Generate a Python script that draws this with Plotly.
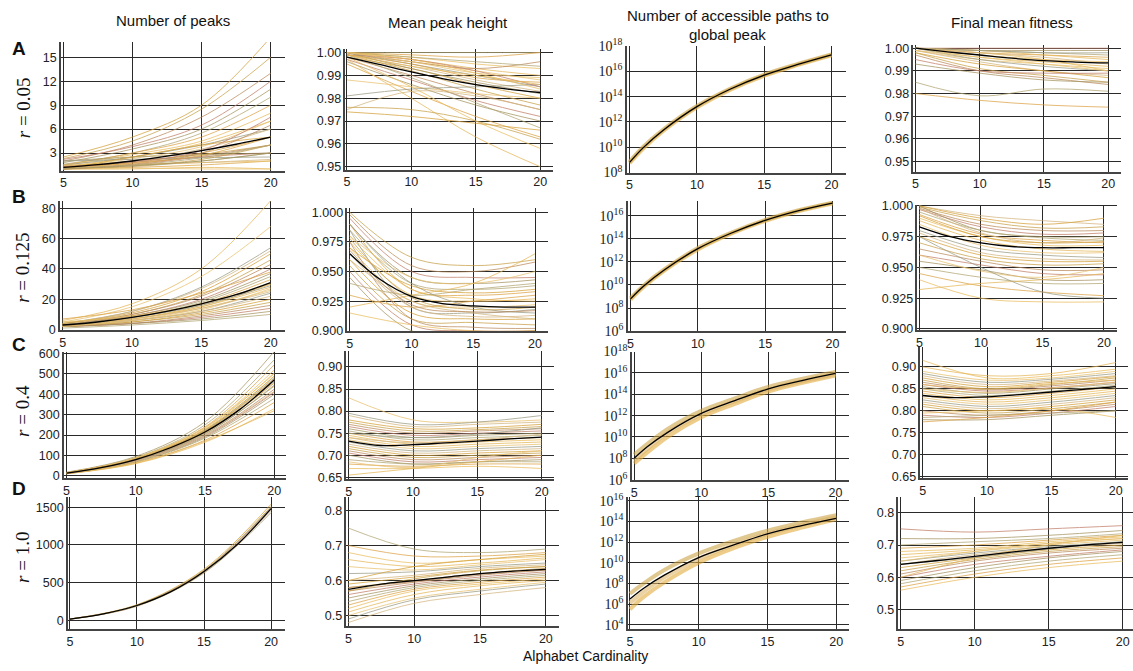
import plotly.graph_objects as go

W, H = 1133, 671

# x positions (alphabet cardinality)
X4 = [5, 10, 15, 20]
X7 = [5, 7.5, 10, 12.5, 15, 17.5, 20]
X8 = [5, 6, 7.5, 10, 12.5, 15, 17.5, 20]

col_titles = ["Number of peaks", "Mean peak height",
              "Number of accessible paths to", "Final mean fitness"]
col3_title_line2 = "global peak"
row_letters = ["A", "B", "C", "D"]
row_r = ["0.05", "0.125", "0.4", "1.0"]

# ---------------- Row A (r = 0.05) ----------------
A1_lines = [[2.5, 5.0, 9.0, 17.5], [2.3, 4.5, 8.5, 15], [2.0, 4.0, 7.5, 13], [2.2, 3.8, 6.5, 12],
            [1.8, 3.5, 6.0, 11], [1.6, 3.0, 5.5, 10], [1.5, 3.0, 5.0, 9], [1.4, 2.8, 4.5, 8],
            [1.3, 2.5, 4.2, 7], [1.2, 2.3, 3.8, 7], [1.5, 2.5, 4.0, 6], [1.0, 2.0, 3.5, 6],
            [1.1, 1.8, 3.0, 5], [1.3, 2.0, 2.8, 4], [1.2, 1.8, 2.6, 4], [1.0, 1.5, 2.5, 3],
            [2.0, 2.5, 2.8, 3], [1.0, 1.3, 2.0, 3], [1.0, 1.2, 1.5, 2], [1.5, 1.6, 1.8, 2],
            [1.0, 1.0, 1.2, 1], [1.0, 1.1, 1.0, 1], [2.0, 2.2, 2.4, 2.5], [1.2, 1.5, 1.8, 2.2],
            [1.0, 2.5, 4.0, 5.0], [1.1, 1.4, 2.2, 4], [1.0, 1.6, 3.0, 6.5], [1.3, 1.9, 3.3, 7.5],
            [1.0, 1.4, 2.0, 3], [1.1, 1.5, 2.4, 4], [1.2, 1.7, 2.7, 5]]
A1_mean = [1.2, 1.55, 2.0, 2.6, 3.3, 4.1, 5.0]

A2_lines = [[1.0, 1.0, 1.0, 1.0], [1.0, 0.999, 0.998, 1.0], [1.0, 0.998, 0.995, 0.993],
            [1.0, 0.997, 0.993, 0.99], [0.999, 0.996, 0.992, 0.988], [1.0, 0.995, 0.99, 0.985],
            [0.999, 0.994, 0.988, 0.983], [0.998, 0.993, 0.986, 0.98], [0.999, 0.992, 0.984, 0.977],
            [0.998, 0.99, 0.982, 0.975], [0.997, 0.988, 0.979, 0.972], [0.996, 0.986, 0.977, 0.97],
            [0.999, 0.989, 0.978, 0.967], [0.995, 0.983, 0.972, 0.963], [0.998, 0.985, 0.97, 0.958],
            [0.997, 0.98, 0.963, 0.95], [0.988, 0.985, 0.982, 0.98], [0.981, 0.984, 0.985, 0.986],
            [0.975, 0.983, 0.981, 0.975], [0.974, 0.972, 0.969, 0.966], [0.976, 0.975, 0.97, 0.962],
            [1.0, 0.996, 0.993, 0.996], [0.999, 0.997, 0.992, 0.985], [1.0, 0.993, 0.987, 0.982],
            [1.0, 0.998, 0.996, 0.994], [0.999, 0.995, 0.989, 0.987], [1.0, 0.997, 0.991, 0.984],
            [0.999, 0.994, 0.99, 0.986], [1.0, 0.996, 0.991, 0.989]]
A2_mean = [0.998, 0.9948, 0.9915, 0.9885, 0.986, 0.984, 0.9825]

A3_lines = [[5.5e8, 7.5e9, 1.9e11, 1.4e13, 3.6e14, 4.5e15, 3.2e16, 1.85e17],
            [7.2e8, 1.05e10, 2.5e11, 1.8e13, 4.4e14, 5.5e15, 3.8e16, 2.15e17]]
A3_mean = [6.3e8, 8.9e9, 2.2e11, 1.6e13, 4e14, 5e15, 3.5e16, 2e17]

A4_lines = [[1.0, 1.0, 1.0, 1.0], [1.0, 0.999, 0.999, 0.999], [1.0, 0.999, 0.998, 0.997],
            [1.0, 0.998, 0.997, 0.996], [1.0, 0.997, 0.995, 0.994], [1.0, 0.996, 0.994, 0.992],
            [0.999, 0.995, 0.993, 0.991], [1.0, 0.995, 0.992, 0.99], [0.999, 0.994, 0.99, 0.988],
            [0.998, 0.993, 0.99, 0.987], [0.998, 0.991, 0.988, 0.985], [0.997, 0.99, 0.987, 0.984],
            [0.995, 0.99, 0.989, 0.989], [0.993, 0.989, 0.986, 0.985], [0.985, 0.979, 0.982, 0.981],
            [0.98, 0.977, 0.975, 0.974], [1.0, 0.998, 0.995, 0.99], [1.0, 0.999, 0.997, 0.995],
            [0.999, 0.996, 0.993, 0.99], [1.0, 0.999, 0.998, 0.998], [1.0, 0.998, 0.996, 0.993]]
A4_mean = [1.0, 0.9984, 0.997, 0.9956, 0.9945, 0.9939, 0.9935]

# ---------------- Row B (r = 0.125) ----------------
B1_lines = [[6, 17, 40, 85], [5, 15, 35, 68], [4, 12, 28, 54], [4, 12, 27, 52], [4, 11, 25, 50],
            [4, 10, 23, 46], [3, 10, 22, 43], [3, 9, 20, 40], [3, 9, 19, 37], [3, 8, 18, 35],
            [3, 8, 17, 33], [2, 7, 15, 30], [3, 7, 15, 28], [2, 6, 14, 26], [2, 6, 12, 24],
            [2, 6, 12, 22], [2, 5, 11, 20], [2, 5, 10, 18], [2, 4, 9, 16], [2, 4, 8, 14],
            [2, 4, 7, 12], [1, 3, 6, 10], [7, 13, 24, 38], [5, 9, 17, 30], [3, 7, 16, 31],
            [2, 6, 13, 27], [3, 8, 16, 29], [3, 7, 14, 25]]
B1_mean = [3, 5, 8, 12, 17, 23, 31]

B2_lines = [[1.0, 0.962, 0.955, 0.96], [0.998, 0.955, 0.95, 0.958], [0.995, 0.95, 0.945, 0.945],
            [0.99, 0.945, 0.94, 0.943], [0.985, 0.94, 0.935, 0.938], [0.99, 0.935, 0.93, 0.933],
            [0.98, 0.935, 0.927, 0.925], [0.975, 0.93, 0.925, 0.927], [0.97, 0.925, 0.92, 0.922],
            [0.985, 0.92, 0.915, 0.918], [0.965, 0.92, 0.912, 0.913], [0.96, 0.915, 0.91, 0.91],
            [0.955, 0.91, 0.907, 0.905], [0.975, 0.91, 0.903, 0.902], [0.95, 0.905, 0.9, 0.9],
            [0.945, 0.9, 0.898, 0.9], [0.94, 0.93, 0.935, 0.94], [0.93, 0.92, 0.925, 0.93],
            [0.915, 0.905, 0.9, 0.9], [0.92, 0.93, 0.94, 0.965], [0.98, 0.945, 0.94, 0.95],
            [0.99, 0.94, 0.92, 0.915], [0.96, 0.925, 0.915, 0.91], [0.97, 0.938, 0.932, 0.935],
            [0.978, 0.928, 0.918, 0.92], [0.968, 0.922, 0.916, 0.917]]
B2_mean = [0.965, 0.943, 0.929, 0.923, 0.921, 0.920, 0.920]

B3_lines = [[5.5e8, 7.4e9, 1.8e11, 1.2e13, 2.9e14, 3.6e15, 2.6e16, 1.15e17],
            [7.2e8, 9.6e9, 2.2e11, 1.6e13, 3.5e14, 4.4e15, 3e16, 1.38e17]]
B3_mean = [6.3e8, 8.5e9, 2e11, 1.4e13, 3.2e14, 4e15, 2.8e16, 1.26e17]

B4_lines = [[1.0, 0.992, 0.988, 0.985], [1.0, 0.99, 0.985, 0.99], [0.999, 0.988, 0.982, 0.983],
            [0.998, 0.985, 0.98, 0.98], [0.997, 0.983, 0.977, 0.978], [1.0, 0.98, 0.975, 0.975],
            [0.995, 0.98, 0.974, 0.972], [0.993, 0.977, 0.972, 0.97], [0.99, 0.975, 0.968, 0.968],
            [0.988, 0.972, 0.965, 0.963], [0.985, 0.968, 0.962, 0.962], [0.98, 0.965, 0.96, 0.958],
            [0.978, 0.962, 0.957, 0.956], [0.975, 0.96, 0.955, 0.955], [0.97, 0.957, 0.952, 0.953],
            [0.965, 0.955, 0.948, 0.948], [0.96, 0.952, 0.945, 0.944], [0.955, 0.948, 0.94, 0.94],
            [0.95, 0.942, 0.937, 0.937], [0.945, 0.935, 0.93, 0.927], [0.94, 0.925, 0.922, 0.922],
            [0.932, 0.937, 0.94, 0.945], [0.96, 0.947, 0.942, 0.95], [0.975, 0.95, 0.93, 0.925],
            [0.998, 0.978, 0.97, 0.974], [0.992, 0.975, 0.97, 0.971]]
B4_mean = [0.983, 0.975, 0.970, 0.967, 0.966, 0.966, 0.966]

# ---------------- Row C (r = 0.4) ----------------
C1_lines = [[18, 95, 265, 610], [16, 90, 250, 570], [15, 88, 240, 545], [16, 86, 235, 520],
            [14, 85, 230, 505], [15, 84, 225, 490], [13, 82, 222, 480], [14, 80, 218, 470],
            [12, 79, 212, 455], [13, 77, 208, 440], [12, 75, 200, 425], [11, 73, 195, 410],
            [12, 70, 190, 400], [11, 68, 185, 380], [10, 65, 175, 360], [10, 60, 165, 330],
            [11, 62, 170, 320], [14, 87, 238, 500], [13, 78, 205, 445], [12, 72, 198, 415],
            [13, 81, 220, 475], [14, 83, 226, 488], [13, 80, 214, 462]]
C1_mean = [13, 40, 80, 138, 215, 325, 470]

C2_lines = [[0.83, 0.78, 0.775, 0.78], [0.795, 0.77, 0.775, 0.79], [0.79, 0.765, 0.77, 0.775],
            [0.78, 0.76, 0.762, 0.77], [0.775, 0.755, 0.758, 0.765], [0.77, 0.75, 0.755, 0.76],
            [0.765, 0.745, 0.75, 0.755], [0.76, 0.74, 0.745, 0.75], [0.755, 0.735, 0.74, 0.745],
            [0.75, 0.73, 0.735, 0.74], [0.745, 0.725, 0.73, 0.735], [0.74, 0.72, 0.725, 0.73],
            [0.735, 0.715, 0.72, 0.725], [0.73, 0.71, 0.715, 0.72], [0.725, 0.705, 0.71, 0.715],
            [0.72, 0.7, 0.705, 0.71], [0.715, 0.695, 0.7, 0.705], [0.71, 0.69, 0.695, 0.7],
            [0.705, 0.685, 0.69, 0.695], [0.7, 0.68, 0.685, 0.69], [0.69, 0.68, 0.685, 0.685],
            [0.68, 0.675, 0.68, 0.68], [0.67, 0.67, 0.675, 0.67], [0.655, 0.67, 0.685, 0.7],
            [0.685, 0.672, 0.695, 0.71], [0.75, 0.74, 0.748, 0.762], [0.74, 0.728, 0.735, 0.748]]
C2_mean = [0.732, 0.722, 0.724, 0.728, 0.732, 0.737, 0.741]

C3_lines = [[3.2e7, 1e10, 7e11, 1.26e13, 1.8e14, 5.6e15],
            [2.2e8, 5.6e10, 2.8e12, 4e13, 5e14, 1.26e16],
            [6e7, 2.5e10, 1.3e12, 2.2e13, 2.8e14, 8e15]]
C3_lines_x = [5, 7.5, 10, 12.5, 15, 20]
C3_mean = [1e8, 1.26e9, 2.7e10, 1.6e12, 2.5e13, 3.2e14, 1.9e15, 8.9e15]

C4_lines = [[0.915, 0.875, 0.88, 0.895], [0.9, 0.88, 0.885, 0.91], [0.89, 0.87, 0.875, 0.89],
            [0.885, 0.865, 0.872, 0.885], [0.88, 0.86, 0.868, 0.88], [0.875, 0.855, 0.865, 0.878],
            [0.87, 0.85, 0.86, 0.875], [0.865, 0.848, 0.857, 0.87], [0.86, 0.845, 0.853, 0.865],
            [0.855, 0.84, 0.85, 0.862], [0.85, 0.835, 0.845, 0.858], [0.845, 0.83, 0.84, 0.855],
            [0.84, 0.825, 0.835, 0.85], [0.835, 0.82, 0.83, 0.845], [0.83, 0.815, 0.825, 0.84],
            [0.825, 0.81, 0.82, 0.835], [0.82, 0.805, 0.815, 0.83], [0.815, 0.8, 0.81, 0.825],
            [0.81, 0.795, 0.805, 0.82], [0.8, 0.79, 0.8, 0.815], [0.79, 0.785, 0.795, 0.81],
            [0.78, 0.78, 0.79, 0.8], [0.785, 0.79, 0.795, 0.8], [0.775, 0.785, 0.8, 0.82],
            [0.795, 0.8, 0.805, 0.785], [0.86, 0.85, 0.862, 0.87], [0.85, 0.842, 0.852, 0.866]]
C4_mean = [0.835, 0.830, 0.832, 0.837, 0.843, 0.849, 0.855]

# ---------------- Row D (r = 1.0) ----------------
D1_lines = [[22, 210, 680, 1540], [20, 205, 665, 1510], [18, 195, 640, 1460],
            [19, 200, 655, 1490], [21, 190, 630, 1430], [20, 202, 660, 1500]]
D1_mean = [20, 90, 200, 380, 650, 1010, 1480]

D2_lines = [[0.75, 0.69, 0.68, 0.69], [0.7, 0.67, 0.67, 0.68], [0.68, 0.65, 0.66, 0.67],
            [0.66, 0.64, 0.65, 0.665], [0.64, 0.63, 0.645, 0.66], [0.62, 0.625, 0.64, 0.65],
            [0.6, 0.615, 0.635, 0.645], [0.59, 0.61, 0.63, 0.64], [0.58, 0.6, 0.62, 0.635],
            [0.57, 0.595, 0.615, 0.63], [0.56, 0.59, 0.61, 0.625], [0.55, 0.585, 0.605, 0.62],
            [0.54, 0.58, 0.6, 0.615], [0.53, 0.575, 0.595, 0.61], [0.52, 0.57, 0.59, 0.605],
            [0.51, 0.56, 0.585, 0.6], [0.5, 0.55, 0.575, 0.595], [0.49, 0.545, 0.57, 0.59],
            [0.48, 0.535, 0.56, 0.58], [0.6, 0.64, 0.66, 0.675], [0.57, 0.605, 0.628, 0.64],
            [0.58, 0.597, 0.618, 0.63]]
D2_mean = [0.575, 0.59, 0.6, 0.61, 0.62, 0.627, 0.632]

D3_lines = [[3.2e5, 5e6, 1.26e8, 1e10, 2.5e11, 3.2e12, 2.5e13, 1.6e14],
            [1e7, 1e8, 2e9, 8e10, 1.26e12, 1.26e13, 8e13, 4e14],
            [1.26e6, 1.6e7, 4e8, 2.5e10, 5e11, 6.3e12, 4.5e13, 2.5e14]]
D3_mean = [3.2e6, 3.5e7, 6.3e8, 3.2e10, 5e11, 6.3e12, 4e13, 2e14]

D4_lines = [[0.75, 0.74, 0.75, 0.76], [0.72, 0.72, 0.73, 0.745], [0.7, 0.71, 0.72, 0.735],
            [0.69, 0.7, 0.715, 0.73], [0.68, 0.69, 0.71, 0.725], [0.67, 0.685, 0.705, 0.72],
            [0.66, 0.68, 0.7, 0.715], [0.65, 0.675, 0.695, 0.71], [0.64, 0.67, 0.69, 0.705],
            [0.63, 0.66, 0.685, 0.7], [0.62, 0.655, 0.68, 0.695], [0.61, 0.65, 0.675, 0.69],
            [0.6, 0.64, 0.665, 0.685], [0.59, 0.63, 0.66, 0.68], [0.58, 0.62, 0.65, 0.67],
            [0.57, 0.61, 0.64, 0.66], [0.56, 0.6, 0.63, 0.65], [0.6, 0.66, 0.7, 0.73],
            [0.65, 0.68, 0.705, 0.72], [0.64, 0.662, 0.688, 0.71]]
D4_mean = [0.64, 0.652, 0.665, 0.678, 0.69, 0.70, 0.708]

# tick values / labels
lin_ticks = {
    "A1": ([3, 6, 9, 12, 15], ["3", "6", "9", "12", "15"]),
    "A2": ([0.95, 0.96, 0.97, 0.98, 0.99, 1.0], ["0.95", "0.96", "0.97", "0.98", "0.99", "1.00"]),
    "A4": ([0.95, 0.96, 0.97, 0.98, 0.99, 1.0], ["0.95", "0.96", "0.97", "0.98", "0.99", "1.00"]),
    "B1": ([0, 20, 40, 60, 80], ["0", "20", "40", "60", "80"]),
    "B2": ([0.9, 0.925, 0.95, 0.975, 1.0], ["0.900", "0.925", "0.950", "0.975", "1.000"]),
    "B4": ([0.9, 0.925, 0.95, 0.975, 1.0], ["0.900", "0.925", "0.950", "0.975", "1.000"]),
    "C1": ([0, 100, 200, 300, 400, 500, 600], ["0", "100", "200", "300", "400", "500", "600"]),
    "C2": ([0.65, 0.7, 0.75, 0.8, 0.85, 0.9], ["0.65", "0.70", "0.75", "0.80", "0.85", "0.90"]),
    "C4": ([0.65, 0.7, 0.75, 0.8, 0.85, 0.9], ["0.65", "0.70", "0.75", "0.80", "0.85", "0.90"]),
    "D1": ([0, 500, 1000, 1500], ["0", "500", "1000", "1500"]),
    "D2": ([0.5, 0.6, 0.7, 0.8], ["0.5", "0.6", "0.7", "0.8"]),
    "D4": ([0.5, 0.6, 0.7, 0.8], ["0.5", "0.6", "0.7", "0.8"]),
}
log_exps = {"A3": [8, 10, 12, 14, 16, 18], "B3": [6, 8, 10, 12, 14, 16],
            "C3": [6, 8, 10, 12, 14, 16, 18], "D3": [4, 6, 8, 10, 12, 14, 16]}

COLORS = ["#EBBE60", "#D6A23C", "#B2A774", "#9C9C86", "#C2806A", "#E6B85A",
          "#C9A24C", "#DDA447", "#D4B680", "#A69562", "#E9C270", "#BC8C5E"]
BAND = ["#E3AC3E", "#CCA448", "#DDB468"]

# panel geometry: (left, top, right, bottom) in px, x range, y range (log10 units for log)
panels = [
    ("A1", A1_lines, X4, A1_mean, (59, 33, 283, 165), (4.82, 21.0), (0.8, 16.9), False),
    ("A2", A2_lines, X4, A2_mean, (344, 40, 552, 164), (4.88, 21.0), (0.9487, 1.0016), False),
    ("A3", A3_lines, X8, A3_mean, (626, 37, 845, 167), (4.8, 21.04), (8, 18), True),
    ("A4", A4_lines, X4, A4_mean, (913, 36, 1121, 166), (4.84, 21.0), (0.9456, 1.0014), False),
    ("B1", B1_lines, X4, B1_mean, (58, 196, 283, 329), (4.8, 21.0), (-0.4, 85), False),
    ("B2", B2_lines, X4, B2_mean, (346, 203, 547, 330), (4.81, 21.05), (0.8997, 1.004), False),
    ("B3", B3_lines, X8, B3_mean, (627, 196, 845, 330), (4.8, 20.97), (6, 17.3), True),
    ("B4", B4_lines, X4, B4_mean, (917, 200, 1117, 329), (4.84, 21.06), (0.899, 1.001), False),
    ("C1", C1_lines, X4, C1_mean, (62, 351, 285, 481), (4.81, 20.89), (-11, 610), False),
    ("C2", C2_lines, X4, C2_mean, (345, 350, 553, 482), (4.82, 20.96), (0.646, 0.937), False),
    ("C3", C3_lines, C3_lines_x, C3_mean, (631, 351, 848, 483), (4.83, 20.97), (5.96, 18.0), True),
    ("C4", C4_lines, X4, C4_mean, (920, 346, 1128, 481), (4.82, 20.95), (0.647, 0.946), False),
    ("D1", D1_lines, X4, D1_mean, (66, 500, 283, 636), (4.85, 21.0), (-110, 1640), False),
    ("D2", D2_lines, X4, D2_mean, (345, 500, 558, 633), (4.85, 21.0), (0.47, 0.84), False),
    ("D3", D3_lines, X8, D3_mean, (627, 500, 848, 636), (4.85, 20.9), (3.6, 16.4), True),
    ("D4", D4_lines, X4, D4_mean, (898, 500, 1133, 636), (4.85, 20.7), (0.44, 0.85), False),
]

fig = go.Figure()
layout = dict(width=W, height=H, margin=dict(l=0, r=0, t=0, b=0),
              paper_bgcolor="white", plot_bgcolor="white", showlegend=False,
              font=dict(family="Liberation Sans, Arial, sans-serif", size=12, color="#222"))

GRID = "#2a2a2a"
for k, (name, lines, lx, mean, box, xr, yr, is_log) in enumerate(panels, start=1):
    xa, ya = f"x{k}", f"y{k}"
    l, t, r, b = box
    mx = X8 if is_log else X7
    if is_log:
        for j, ln in enumerate(lines):
            fig.add_trace(go.Scatter(x=lx, y=ln, mode="lines", xaxis=xa, yaxis=ya,
                                     line=dict(color=BAND[j % 3], width=4, shape="spline"),
                                     opacity=0.6, hoverinfo="skip"))
        exps = log_exps[name]
        tv = [10.0 ** e for e in exps]
        tt = [f"10<sup>{e}</sup>" for e in exps]
        ytype = "log"
        tfont = dict(family="Liberation Serif, Times New Roman, serif", size=14, color="#222")
    else:
        for j, ln in enumerate(lines):
            fig.add_trace(go.Scatter(x=lx, y=ln, mode="lines", xaxis=xa, yaxis=ya,
                                     line=dict(color=COLORS[(j * 5 + k) % len(COLORS)], width=1,
                                               shape="spline", smoothing=1.0),
                                     opacity=0.75, hoverinfo="skip"))
        tv, tt = lin_ticks[name]
        ytype = "linear"
        tfont = dict(family="Liberation Sans, Arial, sans-serif", size=12.5, color="#222")
    fig.add_trace(go.Scatter(x=mx, y=mean, mode="lines", xaxis=xa, yaxis=ya,
                             line=dict(color="black", width=1.3, shape="spline"),
                             hoverinfo="skip"))
    key = "" if k == 1 else str(k)
    layout["xaxis" + key] = dict(domain=[l / W, r / W], anchor=ya, range=list(xr),
                                 tickvals=[5, 10, 15, 20], ticktext=["5", "10", "15", "20"],
                                 showgrid=True, gridcolor=GRID, gridwidth=1, zeroline=False,
                                 showline=True, linecolor="#444", linewidth=1.5, ticks="",
                                 tickfont=dict(family="Liberation Sans, Arial, sans-serif", size=12.5, color="#222"))
    layout["yaxis" + key] = dict(domain=[1 - b / H, 1 - t / H], anchor=xa, range=list(yr), type=ytype,
                                 tickvals=tv, ticktext=tt, showgrid=True, gridcolor=GRID, gridwidth=1,
                                 zeroline=False, showline=True, linecolor="#444", linewidth=1.5,
                                 ticks="", tickfont=tfont)

annotations = []
title_pos = [(171, 11), (447, 13), (727, 6), (1012, 13)]
for (px, py), txt in zip(title_pos, col_titles):
    annotations.append(dict(x=px / W, y=1 - py / H, xref="paper", yref="paper", text=txt,
                            showarrow=False, xanchor="center", yanchor="middle",
                            font=dict(size=15, color="#111", family="Liberation Sans, Arial, sans-serif")))
annotations.append(dict(x=727 / W, y=1 - 25 / H, xref="paper", yref="paper", text=col3_title_line2,
                        showarrow=False, xanchor="center", yanchor="middle",
                        font=dict(size=15, color="#111", family="Liberation Sans, Arial, sans-serif")))
letter_y = [40, 192, 344, 492]
r_y = [100, 265, 412, 562]
for letter, ly, rv, ry in zip(row_letters, letter_y, row_r, r_y):
    annotations.append(dict(x=17 / W, y=1 - ly / H, xref="paper", yref="paper", text=f"<b>{letter}</b>",
                            showarrow=False, xanchor="center", yanchor="middle",
                            font=dict(size=19, color="#111", family="Liberation Sans, Arial, sans-serif")))
    annotations.append(dict(x=21 / W, y=1 - ry / H, xref="paper", yref="paper",
                            text=f"<i>r</i> = {rv}", textangle=-90,
                            showarrow=False, xanchor="center", yanchor="middle",
                            font=dict(size=19, color="#111", family="Liberation Serif, Times New Roman, serif")))
annotations.append(dict(x=585 / W, y=1 - 664 / H, xref="paper", yref="paper", text="Alphabet Cardinality",
                        showarrow=False, xanchor="center", yanchor="middle",
                        font=dict(size=14, color="#111", family="Liberation Sans, Arial, sans-serif")))
layout["annotations"] = annotations
fig.update_layout(**layout)
fig.write_html("out.html")
